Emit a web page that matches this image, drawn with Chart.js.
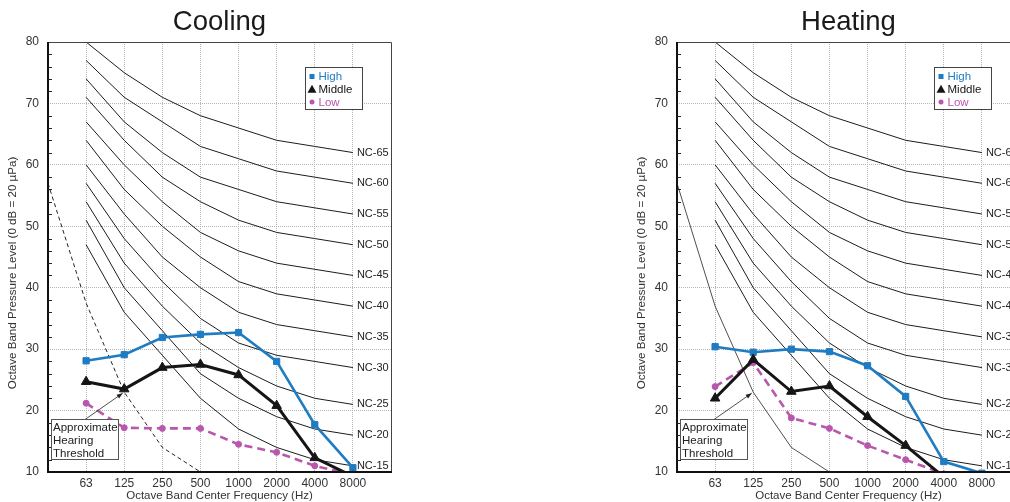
<!DOCTYPE html>
<html>
<head>
<meta charset="utf-8">
<script src="https://cdn.jsdelivr.net/npm/chart.js@4"></script>
<style>
  html, body { margin:0; padding:0; width:1010px; height:502px; overflow:hidden; background:#fff; }
  .panel { position:absolute; top:0; width:400px; height:502px; }
  #p1 { left:0; }
  #p2 { left:629px; }
</style>
</head>
<body>
<div class="panel" id="p1"><canvas id="c1" width="400" height="502"></canvas></div>
<div class="panel" id="p2"><canvas id="c2" width="400" height="502"></canvas></div>
<script>
// ---- data ----
const bandFreqs = ['31.5','63','125','250','500','1000','2000','4000','8000','16000'];
const freqLabels = ['63','125','250','500','1000','2000','4000','8000'];

const ncNames = ['NC-15','NC-20','NC-25','NC-30','NC-35','NC-40','NC-45','NC-50','NC-55','NC-60','NC-65'];
const nc15 = [47,36,29,22,17,14,12,11];
const nc20 = [51,40,33,26,22,19,17,16];
const nc25 = [54,44,37,31,27,24,22,21];
const nc30 = [57,48,41,35,31,29,28,27];
const nc35 = [60,52,45,40,36,34,33,32];
const nc40 = [64,56,50,45,41,39,38,37];
const nc45 = [67,60,54,49,46,44,43,42];
const nc50 = [71,64,58,54,51,49,48,47];
const nc55 = [74,67,62,58,56,54,53,52];
const nc60 = [77,71,67,63,61,59,58,57];
const nc65 = [80,75,71,68,66,64,63,62];
const ncCurves = [nc15,nc20,nc25,nc30,nc35,nc40,nc45,nc50,nc55,nc60,nc65];

const thresholdFreqs = ['31.5','63','125','250','500'];
const thresholdCooling = [57,37.5,23,14,10];
const thresholdHeating = [57,37,23,14,10];

const coolingHigh   = [28.1,29.1,31.9,32.4,32.7,28.0,17.7,10.7];
const coolingMiddle = [24.7,23.5,27.0,27.5,25.8,20.8,12.3,9.3];
const coolingLow    = [21.2,17.2,17.1,17.1,14.5,13.2,11.0,9.6];

const heatingHigh   = [30.4,29.5,30.0,29.6,27.3,22.3,11.7,9.8];
const heatingMiddle = [22.0,28.3,23.1,24.0,19.0,14.3,9.2,null];
const heatingLow    = [23.9,27.8,18.8,17.1,14.3,12.0,9.7,null];

const yTicks = [10,20,30,40,50,60,70,80];
const seriesNames = ['High','Middle','Low'];

// ---- helpers ----
const FONT = "'Liberation Sans', Arial, Helvetica, sans-serif";
const BLUE = '#1f7cc2', BLACK = '#151515', MAG = '#b957ac';
function xOf(freq){ return bandFreqs.indexOf(freq) - 1; }
function pts(vals, freqs){ return vals.map((v,i)=>({x:xOf(freqs[i]), y:v})); }

function buildChart(canvasId, title, high, mid, low, thr, thrDash){
  const datasets = [];
  ncCurves.forEach((c,i)=>{
    datasets.push({label:ncNames[i], data:pts(c,freqLabels), borderColor:'#1c1c1c', borderWidth:1,
      pointRadius:0, tension:0, isNC:true, order:5});
  });
  datasets.push({label:'threshold', data:pts(thr,thresholdFreqs), borderColor:'#222', borderWidth:thrDash?1:0.8,
    borderDash: thrDash ? [4,3] : [], pointRadius:0, order:4});
  datasets.push({label:'Low', data:pts(low,freqLabels), borderColor:MAG, backgroundColor:MAG, borderWidth:2.6,
    borderDash:[8,5], pointStyle:'circle', pointRadius:3, pointBorderWidth:1, clip:0, order:3});
  datasets.push({label:'High', data:pts(high,freqLabels), borderColor:BLUE, backgroundColor:BLUE, borderWidth:2.6,
    pointStyle:'rect', pointRadius:4.4, pointBorderWidth:1, clip:0, order:2});
  datasets.push({label:'Middle', data:pts(mid,freqLabels), borderColor:BLACK, backgroundColor:BLACK, borderWidth:3,
    pointStyle:'triangle', pointRadius:5.5, pointBorderWidth:1, clip:0, order:1});

  const deco = {
    id:'deco',
    afterDatasetsDraw(chart){
      const ctx = chart.ctx, a = chart.chartArea;
      const xs = chart.scales.x, ys = chart.scales.y;
      ctx.save();
      // title
      ctx.fillStyle = '#1a1a1a'; ctx.font = '27.5px ' + FONT; ctx.textAlign = 'center'; ctx.textBaseline = 'alphabetic';
      ctx.fillText(title, (a.left + a.right)/2, 29.5);
      // x axis title
      ctx.fillStyle = '#333'; ctx.font = '11.5px ' + FONT; ctx.textBaseline = 'middle';
      ctx.fillText('Octave Band Center Frequency (Hz)', (a.left + a.right)/2, 496);
      // frame
      ctx.strokeStyle = '#444'; ctx.lineWidth = 1;
      ctx.beginPath();
      ctx.moveTo(a.left, a.top+0.5); ctx.lineTo(a.right+0.5, a.top+0.5); ctx.lineTo(a.right+0.5, a.bottom);
      ctx.stroke();
      ctx.strokeStyle = '#111'; ctx.lineWidth = 2;
      ctx.beginPath();
      ctx.moveTo(a.left, a.top); ctx.lineTo(a.left, a.bottom); ctx.lineTo(a.right+1, a.bottom);
      ctx.stroke();
      // minor ticks (inward)
      ctx.lineWidth = 1; ctx.strokeStyle = '#222';
      for (let v = 12; v < 80; v += 2){
        if (v % 10 === 0) continue;
        const y = Math.round(ys.getPixelForValue(v)) + 0.5;
        ctx.beginPath(); ctx.moveTo(a.left, y); ctx.lineTo(a.left+4, y); ctx.stroke();
      }
      // NC labels
      ctx.fillStyle = '#222'; ctx.font = '11px ' + FONT; ctx.textBaseline = 'middle'; ctx.textAlign = 'left';
      chart.data.datasets.forEach((ds, i)=>{
        if (!ds.isNC) return;
        const m = chart.getDatasetMeta(i);
        const p = m.data[m.data.length-1];
        ctx.fillText(ds.label, p.x + 4, p.y);
      });
      // annotation box + arrow
      const bx = a.left + 3.5, by = 419.5, bw = 67, bh = 40;
      const tx = xs.getPixelForValue(1) - 1.5, ty = ys.getPixelForValue(23) + 1;
      const sx = a.left + 37, sy = by;
      ctx.strokeStyle = '#222'; ctx.lineWidth = 0.8;
      ctx.beginPath(); ctx.moveTo(sx, sy); ctx.lineTo(tx, ty); ctx.stroke();
      const ang = Math.atan2(ty - sy, tx - sx);
      ctx.fillStyle = '#222';
      ctx.beginPath();
      ctx.moveTo(tx, ty);
      ctx.lineTo(tx - 6*Math.cos(ang) + 2.2*Math.sin(ang), ty - 6*Math.sin(ang) - 2.2*Math.cos(ang));
      ctx.lineTo(tx - 6*Math.cos(ang) - 2.2*Math.sin(ang), ty - 6*Math.sin(ang) + 2.2*Math.cos(ang));
      ctx.closePath(); ctx.fill();
      ctx.fillStyle = '#fff'; ctx.fillRect(bx, by, bw, bh);
      ctx.strokeStyle = '#555'; ctx.lineWidth = 1; ctx.strokeRect(bx, by, bw, bh);
      ctx.fillStyle = '#222'; ctx.font = '11.5px ' + FONT; ctx.textBaseline = 'middle';
      ['Approximate','Hearing','Threshold'].forEach((t,k)=> ctx.fillText(t, bx + 1.5, by + 8.5 + k*13));
      // legend
      const lx = a.left + 257.5, ly = a.top + 25.5, lw = 57, lh = 42;
      ctx.fillStyle = '#fff'; ctx.fillRect(lx, ly, lw, lh);
      ctx.strokeStyle = '#444'; ctx.strokeRect(lx, ly, lw, lh);
      const cols = [BLUE, BLACK, MAG];
      ctx.font = '11.5px ' + FONT;
      seriesNames.forEach((n,k)=>{
        const cy = ly + 9 + k*12.8, cx = lx + 6.5;
        ctx.fillStyle = cols[k];
        ctx.beginPath();
        if (k === 0) ctx.rect(cx-2.5, cy-2.5, 5, 5);
        else if (k === 1){ ctx.moveTo(cx, cy-4.5); ctx.lineTo(cx+4.5, cy+3.5); ctx.lineTo(cx-4.5, cy+3.5); ctx.closePath(); }
        else ctx.arc(cx, cy, 2.5, 0, Math.PI*2);
        ctx.fill();
        ctx.fillText(n, lx + 13, cy + 0.5);
      });
      // y axis title
      ctx.save();
      ctx.translate(12.5, 273);
      ctx.rotate(-Math.PI/2);
      ctx.textAlign = 'center'; ctx.textBaseline = 'middle';
      ctx.fillStyle = '#333'; ctx.font = '11.6px ' + FONT;
      ctx.fillText('Octave Band Pressure Level (0 dB = 20 µPa)', 0, 0);
      ctx.restore();
      ctx.restore();
    }
  };

  return new Chart(document.getElementById(canvasId), {
    type:'line',
    data:{datasets},
    plugins:[deco],
    options:{
      responsive:false, animation:false, devicePixelRatio:1,
      layout:{padding:{left:0, right:9, top:42, bottom:0}},
      plugins:{
        legend:{display:false}, tooltip:{enabled:false}, title:{display:false}
      },
      elements:{line:{tension:0}},
      scales:{
        x:{
          type:'linear', min:-1, max:8,
          afterBuildTicks(s){ s.ticks = freqLabels.map((_,i)=>({value:i})); },
          afterFit(s){ s.height = 30; },
          ticks:{callback:(v)=>freqLabels[v], color:'#333', font:{family:FONT, size:12}, padding:4.5, maxRotation:0, autoSkip:false},
          grid:{color:'#b5b5b5', lineWidth:1, drawTicks:false},
          border:{display:false, dash:[1,1]},
          title:{display:false}
        },
        y:{
          type:'linear', min:10, max:80,
          afterBuildTicks(s){ s.ticks = yTicks.map(v=>({value:v})); },
          afterFit(s){ s.width = 48; },
          ticks:{color:'#333', font:{family:FONT, size:12}, padding:9},
          grid:{color:'#b5b5b5', lineWidth:1, drawTicks:false},
          border:{display:false, dash:[1,1]}
        }
      }
    }
  });
}

buildChart('c1', 'Cooling', coolingHigh, coolingMiddle, coolingLow, thresholdCooling, true);
buildChart('c2', 'Heating', heatingHigh, heatingMiddle, heatingLow, thresholdHeating, false);
</script>
</body>
</html>
